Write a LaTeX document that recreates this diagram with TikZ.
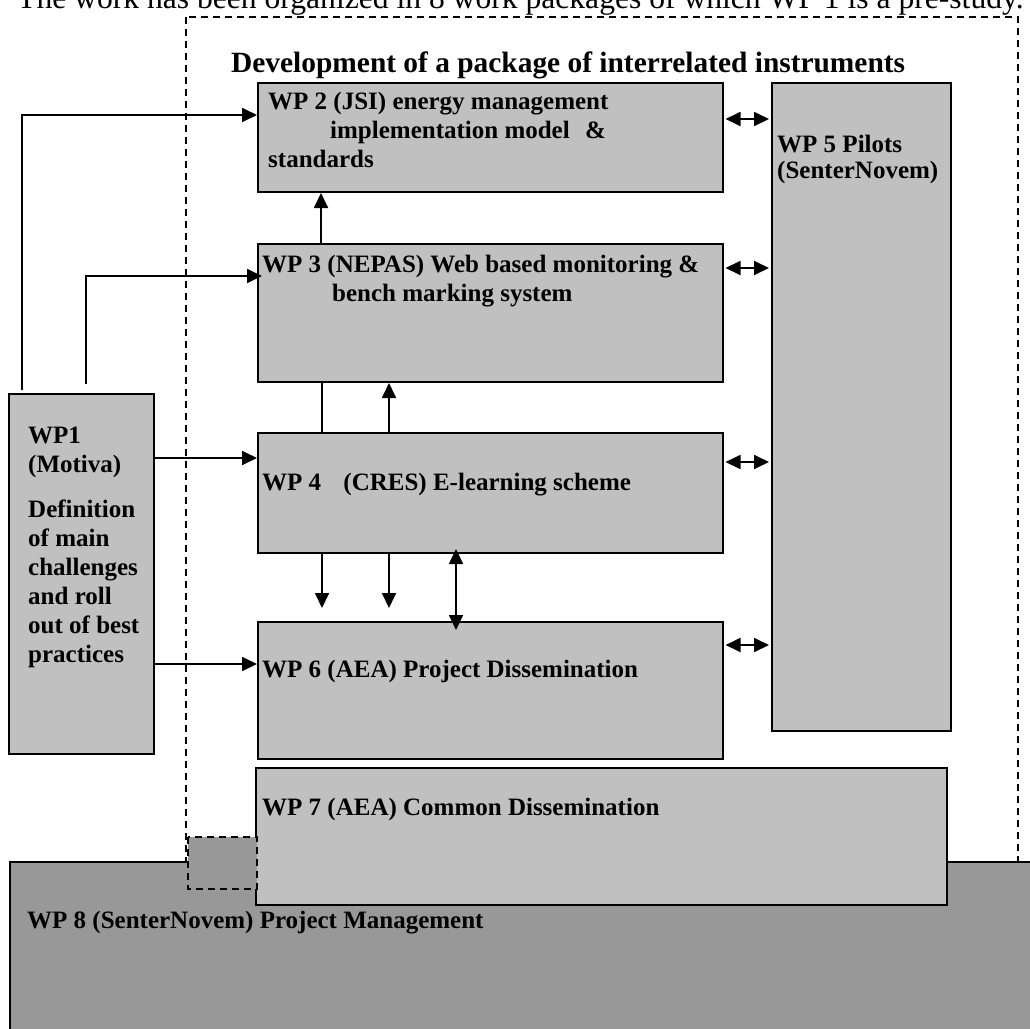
\documentclass[tikz,border=0pt]{standalone}
\usepackage{fontspec}
\setmainfont{Liberation Serif}
\usetikzlibrary{arrows.meta}

\begin{document}
\begin{tikzpicture}[x=1pt, y=-1pt, >={Triangle[length=15pt,width=14pt]},
	wpbox/.style={draw, line width=2pt, fill=wpgrey, anchor=north west, inner sep=0pt},
	wptext/.style={anchor=base west, align=left, inner sep=0pt, font=\bfseries\fontsize{25pt}{29pt}\selectfont},
	link/.style={line width=1.8pt},
	dashline/.style={line width=1.8pt, dash pattern=on 7pt off 5pt}]
			\definecolor{wpgrey}{RGB}{192,192,192}
				\definecolor{wpdark}{RGB}{152,152,152}

				\clip (0,0) rectangle (1030,1028);

				\node[anchor=base west, inner sep=0pt, font=\fontsize{31.6pt}{36pt}\selectfont] (intro) at (17,8) {The work has been organized in 8 work packages of which WP 1 is a pre-study.};

				\draw[dashline] (186,17) rectangle (1018,900);

				\node[wpbox, fill=wpdark, minimum width=1100pt, minimum height=300pt] (wp8) at (9,861) {};

				\node[wpbox, minimum width=145pt, minimum height=360pt] (wp1) at (8,393) {};
				\node[wpbox, minimum width=465pt, minimum height=109pt] (wp2) at (257,82) {};
				\node[wpbox, minimum width=465pt, minimum height=138pt] (wp3) at (257,243) {};
				\node[wpbox, minimum width=465pt, minimum height=120pt] (wp4) at (257,432) {};
				\node[wpbox, minimum width=465pt, minimum height=137pt] (wp6) at (257,621) {};
				\node[wpbox, minimum width=179pt, minimum height=648pt] (wp5) at (771,82) {};
				\node[wpbox, minimum width=691pt, minimum height=137pt] (wp7) at (255,767) {};

				\draw[dashline, fill=wpdark] (188,837) rectangle (257,889);

				\node[anchor=base west, inner sep=0pt, font=\bfseries\fontsize{29.4pt}{34pt}\selectfont] (title) at (231,72) {Development of a package of interrelated instruments};

				% base of a multi-line node is its last line
				\node[wptext] (wp1txt) at (28,662) {WP1\\(Motiva)\\[16pt]Definition\\of main\\challenges\\and roll\\out of best\\practices};
				\node[wptext] (wp2txt) at (268,167) {WP 2 (JSI) energy management\\\hspace*{62pt}implementation model\hspace{9pt} \&\\standards};
				\node[wptext] (wp3txt) at (262,301) {WP 3 (NEPAS) Web based monitoring \&\\\hspace*{70pt}bench marking system};
				\node[wptext] (wp4txt) at (262,490) {WP 4\hspace{16pt} (CRES) E-learning scheme};
				\node[wptext] (wp5txt) at (777,178) {WP 5 Pilots\\[-3pt](SenterNovem)};
				\node[wptext] (wp6txt) at (262,677) {WP 6 (AEA) Project Dissemination};
				\node[wptext] (wp7txt) at (262,815) {WP 7 (AEA) Common Dissemination};
				\node[wptext] (wp8txt) at (27,928) {WP 8 (SenterNovem) Project Management};

				\draw[link,->] ([shift={(14,-3)}]wp1.north west) |- ([yshift=-33pt]wp2.north west);
				\draw[link,->] ([shift={(78,-9)}]wp1.north west) |- ([shift={(5,33)}]wp3.north west);
				\draw[link,->] (wp1.east |- 0,458) -- (wp4.west |- 0,458);
				\draw[link,->] (wp1.east |- 0,664) -- (wp6.west |- 0,664);

				\draw[link,->] ([xshift=64pt]wp3.north west) -- ([xshift=64pt]wp2.south west);
				\draw[link] ([xshift=65pt]wp4.north west) -- ([xshift=65pt]wp3.south west);
				\draw[link,->] ([xshift=132pt]wp4.north west) -- ([xshift=132pt]wp3.south west);

				\foreach \dx in {65,132}{
						\draw[link,->] ([xshift=\dx pt]wp4.south west) -- ([shift={(\dx,-13)}]wp6.north west);
					}
				\draw[link,<->] ([shift={(199,-5)}]wp4.south west) -- ([shift={(199,9)}]wp6.north west);

				\foreach \b/\y in {wp2/119, wp3/268, wp4/462, wp6/645}{
						\draw[link,<->,shorten <=1.5pt,shorten >=2pt] (\b.east |- 0,\y) -- (wp5.west |- 0,\y);
					}
		\end{tikzpicture}
\end{document}
